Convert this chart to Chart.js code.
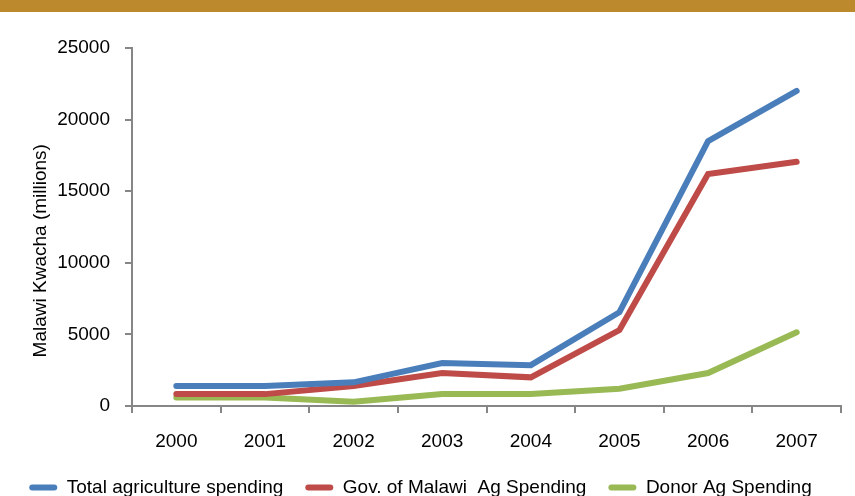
<!DOCTYPE html>
<html>
<head>
<meta charset="utf-8">
<script src="https://cdn.jsdelivr.net/npm/chart.js@4/dist/chart.umd.min.js"></script>
<style>
  html, body { margin: 0; padding: 0; background: #fff; overflow: hidden; }
  #bar { width: 855px; height: 12px; background: #bc892d; }
  #wrap { width: 855px; height: 495px; position: relative; }
</style>
</head>
<body>
<div id="bar"></div>
<div id="wrap"><canvas id="chart"></canvas></div>
<script>
// years on the x axis
const years = ["2000", "2001", "2002", "2003", "2004", "2005", "2006", "2007"];

// values in millions of Kwacha
const totalSpending = [1400, 1400, 1650, 3000, 2850, 6550, 18500, 22000];
const govSpending = [830, 830, 1400, 2300, 2000, 5300, 16200, 17050];
const donorSpending = [600, 600, 300, 830, 830, 1200, 2300, 5150];

const axisGray = '#868686';
const font = "'Liberation Sans', Arial, sans-serif";

new Chart(document.getElementById("chart"), {
    type: 'line',
    data: {
        labels: years,
        datasets: [{
            label: 'Total agriculture spending',
            data: totalSpending,
            borderColor: '#4a7ebb',
            backgroundColor: '#4a7ebb',
            borderWidth: 6,
            pointRadius: 0,
            borderCapStyle: 'round',
            tension: 0
        }, {
            label: 'Gov. of Malawi  Ag Spending',
            data: govSpending,
            borderColor: '#be4b48',
            backgroundColor: '#be4b48',
            borderWidth: 6,
            pointRadius: 0,
            borderCapStyle: 'round',
            tension: 0
        }, {
            label: 'Donor Ag Spending',
            data: donorSpending,
            borderColor: '#98b954',
            backgroundColor: '#98b954',
            borderWidth: 6,
            pointRadius: 0,
            borderCapStyle: 'round',
            tension: 0
        }]
    },
    options: {
        responsive: true,
        maintainAspectRatio: false,
        animation: false,
        layout: { padding: { top: 36, right: 14, left: 0, bottom: 0 } },
        plugins: {
            legend: {
                position: 'bottom',
                labels: {
                    font: { family: font, size: 19 },
                    color: '#000',
                    boxWidth: 28,
                    boxHeight: 6,
                    useBorderRadius: true,
                    borderRadius: 3,
                    padding: 22,
                    // no outline around the swatch, just the coloured bar
                    generateLabels: function (chart) {
                        return Chart.defaults.plugins.legend.labels.generateLabels(chart)
                            .map(item => Object.assign(item, { lineWidth: 0 }));
                    }
                }
            },
            tooltip: { enabled: false }
        },
        scales: {
            x: {
                offset: true,
                grid: {
                    display: true,
                    drawOnChartArea: false,
                    drawTicks: true,
                    tickLength: 7,
                    color: axisGray,
                    lineWidth: 2,
                    offset: true
                },
                border: { color: axisGray, width: 2 },
                ticks: {
                    color: '#000',
                    font: { family: font, size: 19 },
                    padding: 17
                },
                afterFit: function (scale) { scale.height = 50; }
            },
            y: {
                min: 0,
                max: 25000,
                ticks: {
                    stepSize: 5000,
                    color: '#000',
                    font: { family: font, size: 19 },
                    padding: 15,
                    callback: function (v) { return String(v); }
                },
                grid: {
                    display: true,
                    drawOnChartArea: false,
                    drawTicks: true,
                    tickLength: 7,
                    color: axisGray,
                    lineWidth: 2
                },
                border: { color: axisGray, width: 2 },
                title: {
                    display: true,
                    // trailing spaces push the title a little lower, as in the original
                    text: 'Malawi Kwacha (millions)\u00a0\u00a0\u00a0\u00a0\u00a0\u00a0\u00a0\u00a0\u00a0',
                    color: '#000',
                    font: { family: font, size: 19 },
                    padding: { top: 29, bottom: 0 }
                },
                afterFit: function (scale) { scale.width = 132; }
            }
        }
    }
});
</script>
</body>
</html>
